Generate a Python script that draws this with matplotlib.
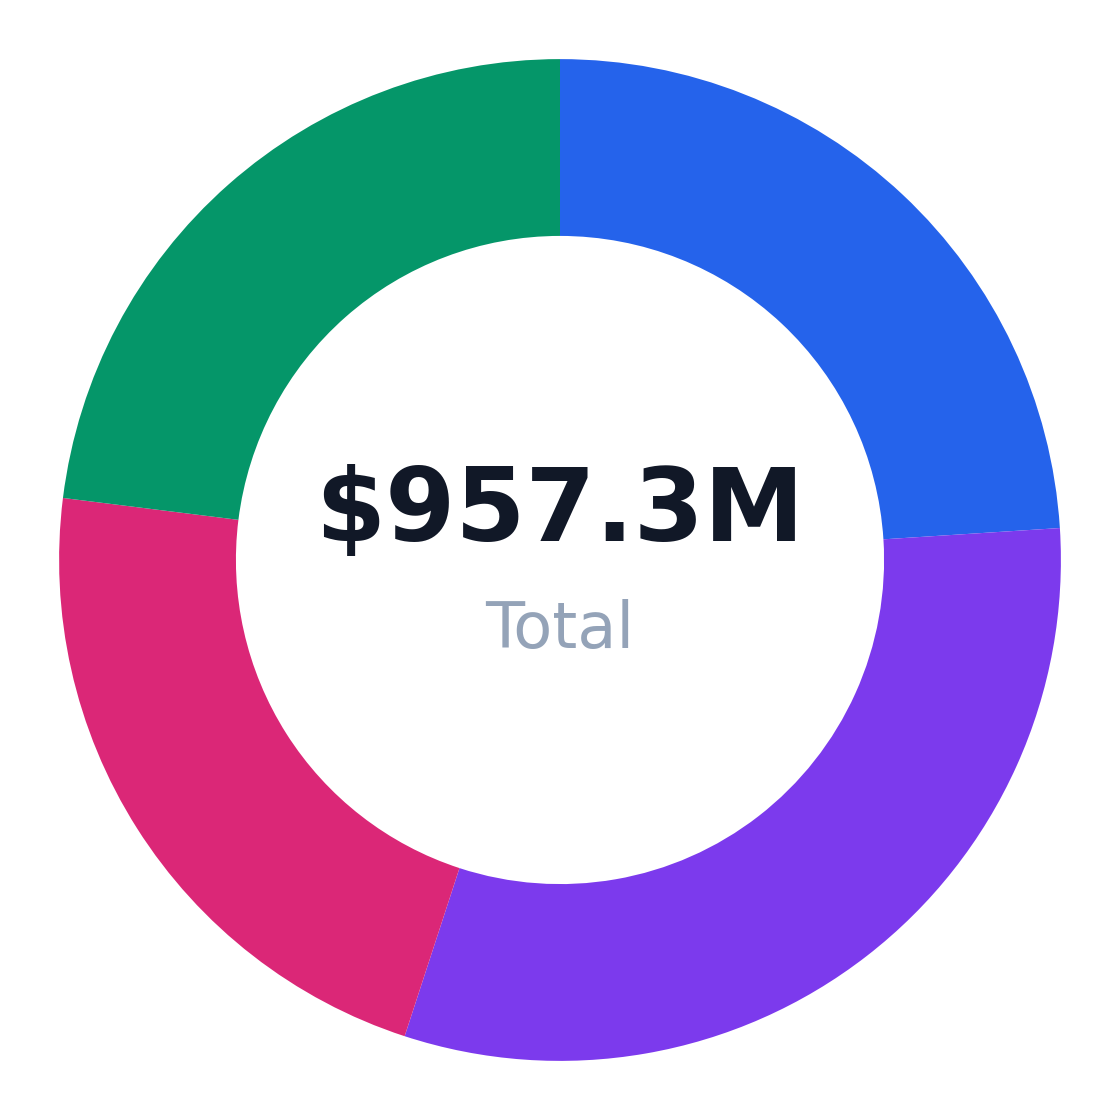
import matplotlib
matplotlib.use("Agg")
import matplotlib.pyplot as plt

# segment values ($M), clockwise from the top
labels = ["Blue", "Purple", "Pink", "Green"]
values = [229.6, 297.1, 210.2, 220.4]
colors = ["#2563EB", "#7C3AED", "#DB2777", "#059669"]
total_label = "$957.3M"
sub_label = "Total"

fig = plt.figure(figsize=(11.2, 11.2), dpi=100)
fig.patch.set_facecolor("white")
ax = fig.add_axes([0, 0, 1, 1])

ax.pie(values, colors=colors, startangle=90, counterclock=False,
       radius=1.0, wedgeprops=dict(width=0.353, linewidth=0))

ax.set_xlim(-1.118, 1.118)
ax.set_ylim(-1.118, 1.118)
ax.set_aspect("equal")
ax.set_axis_off()

ax.text(0, 0.093, total_label, ha="center", va="center",
        fontsize=72.5, fontweight="bold", color="#111827")
ax.text(0, -0.14, sub_label, ha="center", va="center",
        fontsize=46, color="#94A3B8")

fig.savefig("out.png", dpi=100, facecolor="white")
